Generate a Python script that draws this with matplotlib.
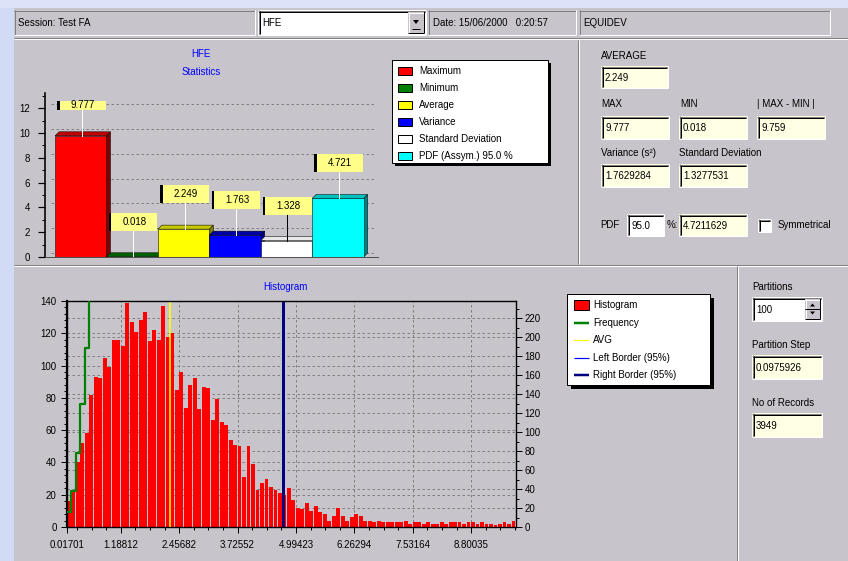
import numpy as np
import matplotlib
matplotlib.use("Agg")
import matplotlib.pyplot as plt
from matplotlib.patches import Rectangle, Polygon
from matplotlib.ticker import FixedLocator, MultipleLocator
import matplotlib.transforms as mtransforms

plt.rcParams['font.family'] = ['Liberation Sans', 'DejaVu Sans']
plt.rcParams['font.size'] = 7

# ---------------- data ----------------
stat_names = ["Maximum", "Minimum", "Average", "Variance",
              "Standard Deviation", "PDF (Assym.) 95.0 %"]
stat_values = [9.777, 0.018, 2.249, 1.763, 1.328, 4.721]
stat_labels = ["9.777", "0.018", "2.249", "1.763", "1.328", "4.721"]
stat_front = ["#FF0000", "#008000", "#FFFF00", "#0000FF", "#FFFFFF", "#00FFFF"]
stat_top = ["#C00000", "#006000", "#C8C800", "#0000A8", "#E8E8E8", "#00C0C0"]
stat_side = ["#800000", "#004000", "#808000", "#000080", "#A0A0A0", "#008080"]
bar_yticks = [0, 2, 4, 6, 8, 10, 12]

hist_counts = [16, 22, 40, 52, 58, 82, 93, 92, 105, 99,
               116, 116, 112, 139, 127, 121, 128, 133, 115, 122,
               116, 137, 118, 120, 85, 96, 74, 88, 92, 73,
               87, 86, 66, 79, 65, 63, 54, 51, 50, 31,
               50, 39, 23, 27, 30, 25, 23, 21, 20, 24,
               17, 12, 11, 15, 10, 13, 9, 8, 4, 7,
               12, 7, 4, 6, 8, 7, 4, 4, 3, 4,
               3, 3, 3, 3, 3, 4, 2, 3, 3, 2,
               3, 2, 2, 3, 2, 3, 3, 3, 2, 3,
               3, 2, 3, 2, 2, 1, 2, 3, 2, 4]
hist_min = 0.01701
hist_step = 0.0975926
hist_tick_bins = [0, 12, 25, 38, 51, 64, 77, 90]
hist_tick_labels = ["0.01701", "1.18812", "2.45682", "3.72552",
                    "4.99423", "6.26294", "7.53164", "8.80035"]
left_yticks = [0, 20, 40, 60, 80, 100, 120, 140]
right_yticks = [0, 20, 40, 60, 80, 100, 120, 140, 160, 180, 200, 220]
avg_value = 2.249
left_border = 0.018
right_border = 4.7211629

hist_legend = ["Histogram", "Frequency", "AVG", "Left Border (95%)", "Right Border (95%)"]

# ---------------- canvas helpers ----------------
W, H = 848, 561
PX = 72.0 / 100.0
FACE = "#C7C5CB"
FIELD = "#FFFFE4"
BLUE_TXT = "#0000FF"

fig = plt.figure(figsize=(W / 100, H / 100), dpi=100)
fig.patch.set_facecolor("#D2DBF5")
bg = fig.add_axes([0, 0, 1, 1])
bg.set_xlim(0, W)
bg.set_ylim(H, 0)
bg.axis("off")


def frac_rect(x0, y0, x1, y1):
    return [x0 / W, 1 - y1 / H, (x1 - x0) / W, (y1 - y0) / H]


def line(x, y, color, lw=1.0, z=2):
    bg.plot(x, y, color=color, lw=lw * PX, solid_capstyle="butt", zorder=z)


def rect(x0, y0, x1, y1, face, edge="none", z=1, lw=1.0):
    bg.add_patch(Rectangle((x0, y0), x1 - x0, y1 - y0, facecolor=face,
                           edgecolor=edge, lw=lw * PX, zorder=z))


def sunken(x0, y0, x1, y1, face, deep=True):
    rect(x0, y0, x1, y1, face)
    line([x0, x1], [y0 + 0.5, y0 + 0.5], "#808080")
    line([x0 + 0.5, x0 + 0.5], [y0, y1], "#808080")
    line([x0, x1], [y1 - 0.5, y1 - 0.5], "#FFFFFF")
    line([x1 - 0.5, x1 - 0.5], [y0, y1], "#FFFFFF")
    if deep:
        line([x0 + 1, x1 - 1], [y0 + 1.5, y0 + 1.5], "#000000")
        line([x0 + 1.5, x0 + 1.5], [y0 + 1, y1 - 1], "#000000")


def raised(x0, y0, x1, y1):
    rect(x0, y0, x1, y1, FACE, z=3)
    line([x0, x1], [y0 + 0.5, y0 + 0.5], "#FFFFFF", z=4)
    line([x0 + 0.5, x0 + 0.5], [y0, y1], "#FFFFFF", z=4)
    line([x0, x1], [y1 - 0.5, y1 - 0.5], "#000000", z=4)
    line([x1 - 0.5, x1 - 0.5], [y0, y1], "#000000", z=4)


def etched_h(x0, x1, y):
    line([x0, x1], [y + 0.5, y + 0.5], "#808080")
    line([x0, x1], [y + 1.5, y + 1.5], "#FFFFFF")


def etched_v(x, y0, y1):
    line([x + 0.5, x + 0.5], [y0, y1], "#808080")
    line([x + 1.5, x + 1.5], [y0, y1], "#FFFFFF")


def txt(x, y, s, **kw):
    kw.setdefault("va", "center")
    kw.setdefault("fontsize", 7)
    bg.text(x, y, s, zorder=6, **kw)


def field(x0, y0, x1, y1, s, face=FIELD):
    sunken(x0, y0, x1, y1, face)
    txt(x0 + 4, (y0 + y1) / 2 + 0.5, s)


# ---------------- dialog frame ----------------
rect(0, 0, W, 8, "#DCE3F8", z=0)
rect(14, 8, W, H, FACE, z=0)

# toolbar row
sunken(14, 10, 255, 35, FACE, deep=False)
txt(18, 22.5, "Session: Test FA")
sunken(258, 10, 426, 35, "#FFFFFF")
txt(262, 22.5, "HFE")
raised(408, 12, 424, 33)
bg.add_patch(Polygon([(413, 20), (419, 20), (416, 24)], closed=True,
                     facecolor="black", edgecolor="none", zorder=5))
line([412, 420], [28.5, 28.5], "#000000", z=5)
sunken(428, 10, 576, 35, FACE, deep=False)
txt(433, 22.5, "Date: 15/06/2000   0:20:57")
sunken(579, 10, 830, 35, FACE, deep=False)
txt(583, 22.5, "EQUIDEV")

etched_h(14, W, 37)
etched_v(577, 40, 264)
etched_h(14, W, 264)
etched_v(736, 266, H)

# ---------------- statistics bar chart ----------------
txt(201, 54, "HFE", color=BLUE_TXT, ha="center")
txt(201, 72, "Statistics", color=BLUE_TXT, ha="center")

ax1 = fig.add_axes(frac_rect(45, 93, 378, 257))
ax1.set_facecolor("none")
ax1.set_xlim(-0.695, 5.78)
ax1.set_ylim(0, 13.23)
for s in ("top", "right"):
    ax1.spines[s].set_visible(False)
ax1.spines["left"].set_linewidth(1.6 * PX)
ax1.spines["bottom"].set_linewidth(1.0 * PX)
ax1.spines["bottom"].set_color("#505050")
ax1.set_xticks([])
ax1.yaxis.set_major_locator(FixedLocator(bar_yticks))
ax1.yaxis.set_minor_locator(MultipleLocator(1))
ax1.set_yticklabels([str(t) for t in bar_yticks])
ax1.tick_params(axis="y", which="major", length=5, width=1.2 * PX, pad=6, labelsize=7)
ax1.tick_params(axis="y", which="minor", length=2.5, width=1.0 * PX)

dx = 4.0 / 51.4
dy = 4.0 / 12.4
for t in bar_yticks:
    ax1.plot([-0.58, 5.75], [t + dy, t + dy], color="#808080", lw=1.0 * PX,
             dashes=(2.5, 2.5), zorder=0.5)

clip_top = 12.58
for i, (v, lab) in enumerate(zip(stat_values, stat_labels)):
    x0, x1 = i - 0.5, i + 0.5
    ax1.add_patch(Polygon([(x1, 0), (x1 + dx, dy), (x1 + dx, v + dy), (x1, v)],
                          closed=True, facecolor=stat_side[i], edgecolor="black",
                          lw=0.5 * PX, zorder=2 + i * 0.1))
    ax1.add_patch(Polygon([(x0, v), (x1, v), (x1 + dx, v + dy), (x0 + dx, v + dy)],
                          closed=True, facecolor=stat_top[i], edgecolor="black",
                          lw=0.5 * PX, zorder=2 + i * 0.1 + 0.01))
    ax1.add_patch(Rectangle((x0, 0), 1, v, facecolor=stat_front[i], edgecolor="black",
                            lw=0.5 * PX, zorder=2 + i * 0.1 + 0.02))
    # value label box
    b = v + 2.1
    t = min(b + 1.45, clip_top)
    bx0, bx1 = i - 0.41, i + 0.49
    ax1.plot([i + 0.02, i + 0.02], [v, b], color="black" if stat_front[i] == "#FFFFFF" else "white",
             lw=1.0 * PX, zorder=3.5)
    ax1.add_patch(Rectangle((bx0 - 0.045, b), bx1 - bx0 + 0.045, t - b, facecolor="black",
                            edgecolor="none", zorder=4))
    ax1.add_patch(Rectangle((bx0, b), bx1 - bx0, t - b, facecolor="#FFFF88",
                            edgecolor="none", zorder=4.1))
    ax1.text((bx0 + bx1) / 2, (b + t) / 2, lab, ha="center", va="center",
             fontsize=7, zorder=5)

# statistics legend
rect(395, 63, 551, 166, "#000000", z=2)
rect(392, 60, 548, 163, "#FFFFFF", edge="#000000", z=3)
for k, name in enumerate(stat_names):
    yy = 70.5 + k * 17
    rect(398, yy - 4, 412, yy + 4, stat_front[k], edge="#000000", z=4)
    txt(419, yy, name)

# ---------------- statistics fields ----------------
txt(601, 56, "AVERAGE")
field(601, 66, 668, 88, "2.249")
txt(601, 104, "MAX")
txt(680, 104, "MIN")
txt(757, 104, "| MAX - MIN |")
field(601, 116, 669, 139, "9.777")
field(679, 116, 747, 139, "0.018")
field(757, 116, 825, 139, "9.759")
txt(601, 153, "Variance (s²)")
txt(679, 153, "Standard Deviation")
field(601, 164, 669, 187, "1.7629284")
field(679, 164, 747, 187, "1.3277531")
txt(600, 225, "PDF")
field(627, 214, 664, 236, "95.0", face="#FFFFFF")
txt(667, 225, "%:")
field(679, 214, 747, 236, "4.7211629")
sunken(758, 219, 771, 232, "#FFFFFF")
txt(778, 225, "Symmetrical")

# ---------------- partition fields ----------------
txt(752, 287, "Partitions")
field(752, 297, 822, 321, "100", face="#FFFFFF")
raised(805, 299, 820, 319)
line([805, 820], [309, 309], "#000000", z=5)
bg.add_patch(Polygon([(810, 306.5), (815, 306.5), (812.5, 303.5)], closed=True,
                     facecolor="black", edgecolor="none", zorder=5))
bg.add_patch(Polygon([(810, 311.5), (815, 311.5), (812.5, 314.5)], closed=True,
                     facecolor="black", edgecolor="none", zorder=5))
txt(752, 345, "Partition Step")
field(752, 355, 822, 379, "0.0975926")
txt(752, 403, "No of Records")
field(752, 413, 822, 437, "3949")

# ---------------- histogram ----------------
txt(285, 287, "Histogram", color=BLUE_TXT, ha="center")

counts = np.array(hist_counts, dtype=float)
edges = hist_min + hist_step * np.arange(len(counts) + 1)
cum = np.cumsum(counts)

ax2 = fig.add_axes(frac_rect(67, 301, 516, 527))
ax2r = ax2.twinx()
ax2.patch.set_visible(False)
ax2r.set_facecolor("none")

ax2.set_xlim(edges[0], edges[-1])
ax2.set_ylim(0, 140)
ax2r.set_ylim(0, 238)

xt = [edges[b] for b in hist_tick_bins]
ax2.xaxis.set_major_locator(FixedLocator(xt))
ax2.set_xticklabels(hist_tick_labels)
minor_x = [hist_min + hist_step * (12 + 3.25 * k) for k in range(-3, 28)]
ax2.xaxis.set_minor_locator(FixedLocator([m for m in minor_x if edges[0] < m < edges[-1]]))
ax2.yaxis.set_major_locator(FixedLocator(left_yticks))
ax2.set_yticklabels([str(t) for t in left_yticks])
ax2.yaxis.set_minor_locator(MultipleLocator(4))
ax2r.yaxis.set_major_locator(FixedLocator(right_yticks))
ax2r.set_yticklabels([str(t) for t in right_yticks])
ax2r.yaxis.set_minor_locator(MultipleLocator(10))

ax2.tick_params(axis="both", which="major", length=4, width=1.0 * PX, labelsize=7)
ax2.tick_params(axis="both", which="minor", length=2, width=1.0 * PX)
ax2.tick_params(axis="x", pad=5)
ax2r.tick_params(axis="y", which="major", length=4, width=1.0 * PX, labelsize=7, pad=2)
ax2r.tick_params(axis="y", which="minor", length=2, width=1.0 * PX)

for a in (ax2, ax2r):
    for s in a.spines.values():
        s.set_linewidth(1.2 * PX)
        s.set_color("black")
ax2.spines["left"].set_linewidth(2.2 * PX)

# dashed grid behind the bars
grid_kw = dict(color="#808080", lw=1.0 * PX, dashes=(2.5, 2.5), zorder=0.5)
for t in left_yticks[1:-1]:
    ax2.plot([edges[0], edges[-1]], [t, t], **grid_kw)
right_tf = mtransforms.blended_transform_factory(ax2.transAxes, ax2r.transData)
for t in right_yticks[1:]:
    ax2.plot([0, 1], [t, t], transform=right_tf, **grid_kw)
for x in xt[1:]:
    ax2.plot([x, x], [0, 140], **grid_kw)

ax2.bar(edges[:-1], counts, width=hist_step * 0.86, align="edge",
        color="#FF0000", edgecolor="none", zorder=2)
ax2.axvline(avg_value, color="#FFFF00", lw=1.6 * PX, zorder=3)
ax2.axvline(left_border, color="#0000FF", lw=1.0 * PX, zorder=3)
ax2.axvline(right_border, color="#000080", lw=3.0 * PX, zorder=3)
ax2r.step(edges[:-1], cum, where="post", color="#008000", lw=2.2 * PX, zorder=3)
ax2r.set_zorder(ax2.get_zorder() + 1)
ax2r.patch.set_visible(False)

# histogram legend
rect(571, 298, 714, 389, "#000000", z=2)
rect(567, 294, 710, 385, "#FFFFFF", edge="#000000", z=3)
rows = [305, 323, 340, 357.5, 375]
rect(574, rows[0] - 5, 589, rows[0] + 5, "#FF0000", edge="#000000", z=4)
line([574, 589], [rows[1], rows[1]], "#008000", lw=2.5, z=4)
line([574, 589], [rows[2], rows[2]], "#FFFF00", lw=1.2, z=4)
line([574, 589], [rows[3], rows[3]], "#0000FF", lw=1.2, z=4)
line([574, 589], [rows[4], rows[4]], "#000080", lw=2.5, z=4)
for yy, name in zip(rows, hist_legend):
    txt(593, yy, name)

fig.savefig("out.png", dpi=100, facecolor=fig.get_facecolor())
